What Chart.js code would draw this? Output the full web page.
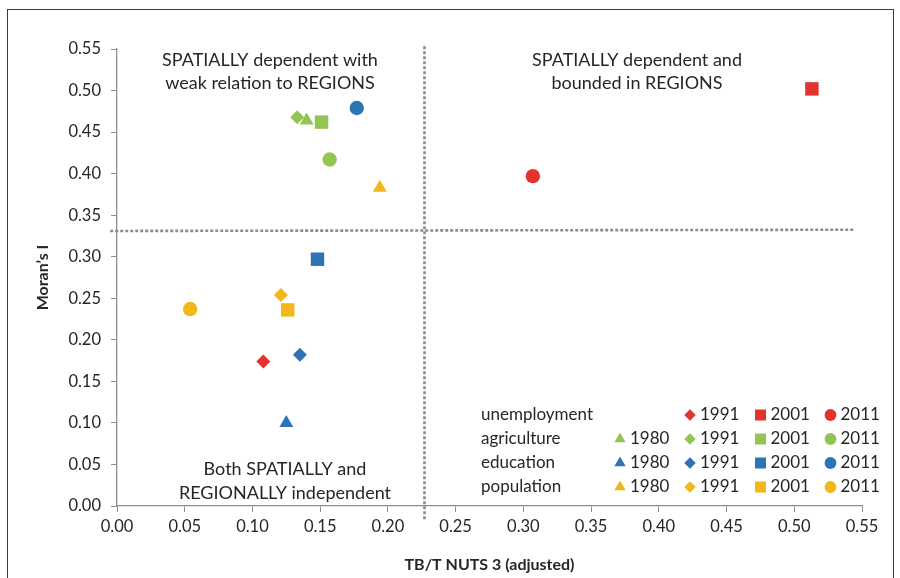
<!DOCTYPE html>
<html>
<head>
<meta charset="utf-8">
<script src="https://cdn.jsdelivr.net/npm/chart.js@4.4.1/dist/chart.umd.min.js"></script>
<style>
  html, body { margin: 0; padding: 0; background: #fff; }
  #wrap { position: relative; width: 900px; height: 578px; }
  #frame { position: absolute; left: 7px; top: 9px; width: 887px; height: 580px; border: 1.5px solid #3a3a3a; box-sizing: border-box; pointer-events: none; }
</style>
</head>
<body>
<div id="wrap">
  <canvas id="chart" width="900" height="578"></canvas>
  <div id="frame"></div>
</div>
<script>
// data
const years = ['1980', '1991', '2001', '2011'];
const seriesNames = ['unemployment', 'agriculture', 'education', 'population'];
const yearShapes = ['triangle', 'rectRot', 'rect', 'circle'];
const yearRadius = [8, 7, 9.5, 7.2];

const unemploymentX = [null, 0.108, 0.513, 0.307];
const unemploymentY = [null, 0.174, 0.502, 0.397];
const agricultureX = [0.140, 0.133, 0.151, 0.157];
const agricultureY = [0.464, 0.468, 0.462, 0.417];
const educationX = [0.125, 0.135, 0.148, 0.177];
const educationY = [0.100, 0.182, 0.297, 0.479];
const populationX = [0.194, 0.121, 0.126, 0.054];
const populationY = [0.383, 0.254, 0.236, 0.237];

const xTicks = [0, 0.05, 0.10, 0.15, 0.20, 0.25, 0.30, 0.35, 0.40, 0.45, 0.50, 0.55];
const splitX = 0.227;   // vertical dotted line
const splitY = [0.331, 0.3325]; // horizontal dotted line (left, right)

const colors = ['#E2332E', '#92C553', '#2C74B5', '#F2B718'];
const allX = [unemploymentX, agricultureX, educationX, populationX];
const allY = [unemploymentY, agricultureY, educationY, populationY];

const FONT = 'Lato, "Open Sans", sans-serif';
const TEXT = '#262626';

const pointSets = seriesNames.map((name, s) => {
  const pts = [], shapes = [], radii = [];
  years.forEach((yr, i) => {
    if (allX[s][i] == null) return;
    pts.push({ x: allX[s][i], y: allY[s][i] });
    shapes.push(yearShapes[i]);
    radii.push(yearRadius[i]);
  });
  return {
    label: name,
    data: pts,
    pointStyle: shapes,
    pointRadius: radii,
    pointHoverRadius: radii,
    backgroundColor: colors[s],
    borderColor: colors[s],
    borderWidth: 0,
    order: 1
  };
});

const dotted = {
  showLine: true, pointRadius: 0, borderColor: '#8c8c8c', borderWidth: 2.6,
  borderDash: [3, 2], clip: false, order: 10, fill: false
};

const datasets = pointSets.concat([
  Object.assign({ label: 'vsplit', data: [{ x: splitX, y: -0.016 }, { x: splitX, y: 0.556 }] }, dotted),
  Object.assign({ label: 'hsplit', data: [{ x: -0.005, y: splitY[0] }, { x: 0.545, y: splitY[1] }] }, dotted)
]);

const notes = [
  { x: 270, y: 60, t: 'SPATIALLY dependent with' },
  { x: 270, y: 83, t: 'weak relation to REGIONS' },
  { x: 637, y: 60, t: 'SPATIALLY dependent and' },
  { x: 637, y: 83, t: 'bounded in REGIONS' },
  { x: 285, y: 469, t: 'Both SPATIALLY and' },
  { x: 285, y: 493, t: 'REGIONALLY independent' }
];
const legendRows = [415, 439, 463, 487];
const legendCols = [620, 690, 760.5, 830.5];

const overlay = {
  id: 'overlay',
  afterDraw(chart) {
    const ctx = chart.ctx;
    ctx.save();
    ctx.fillStyle = TEXT;
    ctx.textBaseline = 'middle';
    ctx.font = '18px ' + FONT;
    ctx.textAlign = 'center';
    notes.forEach(n => ctx.fillText(n.t, n.x, n.y));

    ctx.font = '17px ' + FONT;
    seriesNames.forEach((name, s) => {
      const ry = legendRows[s];
      ctx.fillStyle = TEXT;
      ctx.textAlign = 'left';
      ctx.fillText(name, 481, ry);
      years.forEach((yr, i) => {
        if (allX[s][i] == null) return;
        const cx = legendCols[i];
        ctx.fillStyle = colors[s];
        ctx.strokeStyle = colors[s];
        Chart.helpers.drawPoint(ctx, { pointStyle: yearShapes[i], radius: yearRadius[i] * 0.82, rotation: 0, borderWidth: 0 }, cx, ry);
        ctx.fillStyle = TEXT;
        ctx.fillText(yr, cx + 10, ry);
      });
    });
    ctx.restore();
  }
};

new Chart(document.getElementById('chart').getContext('2d'), {
  type: 'scatter',
  data: { datasets },
  options: {
    responsive: false,
    animation: false,
    layout: { padding: { top: 49, right: 38, left: 0, bottom: 0 } },
    plugins: { legend: { display: false }, tooltip: { enabled: false } },
    scales: {
      x: {
        type: 'linear', min: 0, max: 0.55,
        afterBuildTicks: (scale) => { scale.ticks = xTicks.map(v => ({ value: v })); },
        afterFit: (scale) => { scale.height = 72; },
        grid: { display: true, drawOnChartArea: false, drawTicks: true, tickLength: 6, color: '#8c8c8c' },
        border: { display: true, color: '#8c8c8c', width: 1.3 },
        ticks: { color: TEXT, font: { family: FONT, size: 16.5 }, padding: 5, maxRotation: 0, callback: v => v.toFixed(2) },
        title: { display: true, text: 'TB/T NUTS 3 (adjusted)', color: TEXT, font: { family: FONT, size: 16, weight: 'bold' }, padding: { top: 6, bottom: 4 } }
      },
      y: {
        type: 'linear', min: 0, max: 0.55,
        afterBuildTicks: (scale) => { scale.ticks = xTicks.map(v => ({ value: v })); },
        afterFit: (scale) => { scale.width = 117; },
        grid: { display: true, drawOnChartArea: false, drawTicks: true, tickLength: 6, color: '#8c8c8c' },
        border: { display: true, color: '#8c8c8c', width: 1.3 },
        ticks: { color: TEXT, font: { family: FONT, size: 16.5 }, padding: 10, callback: v => v.toFixed(2) },
        title: { display: true, text: 'Moran\u2019s I', color: TEXT, font: { family: FONT, size: 16, weight: 'bold' }, padding: { top: 33, bottom: 4 } }
      }
    }
  },
  plugins: [overlay]
});
</script>
</body>
</html>
